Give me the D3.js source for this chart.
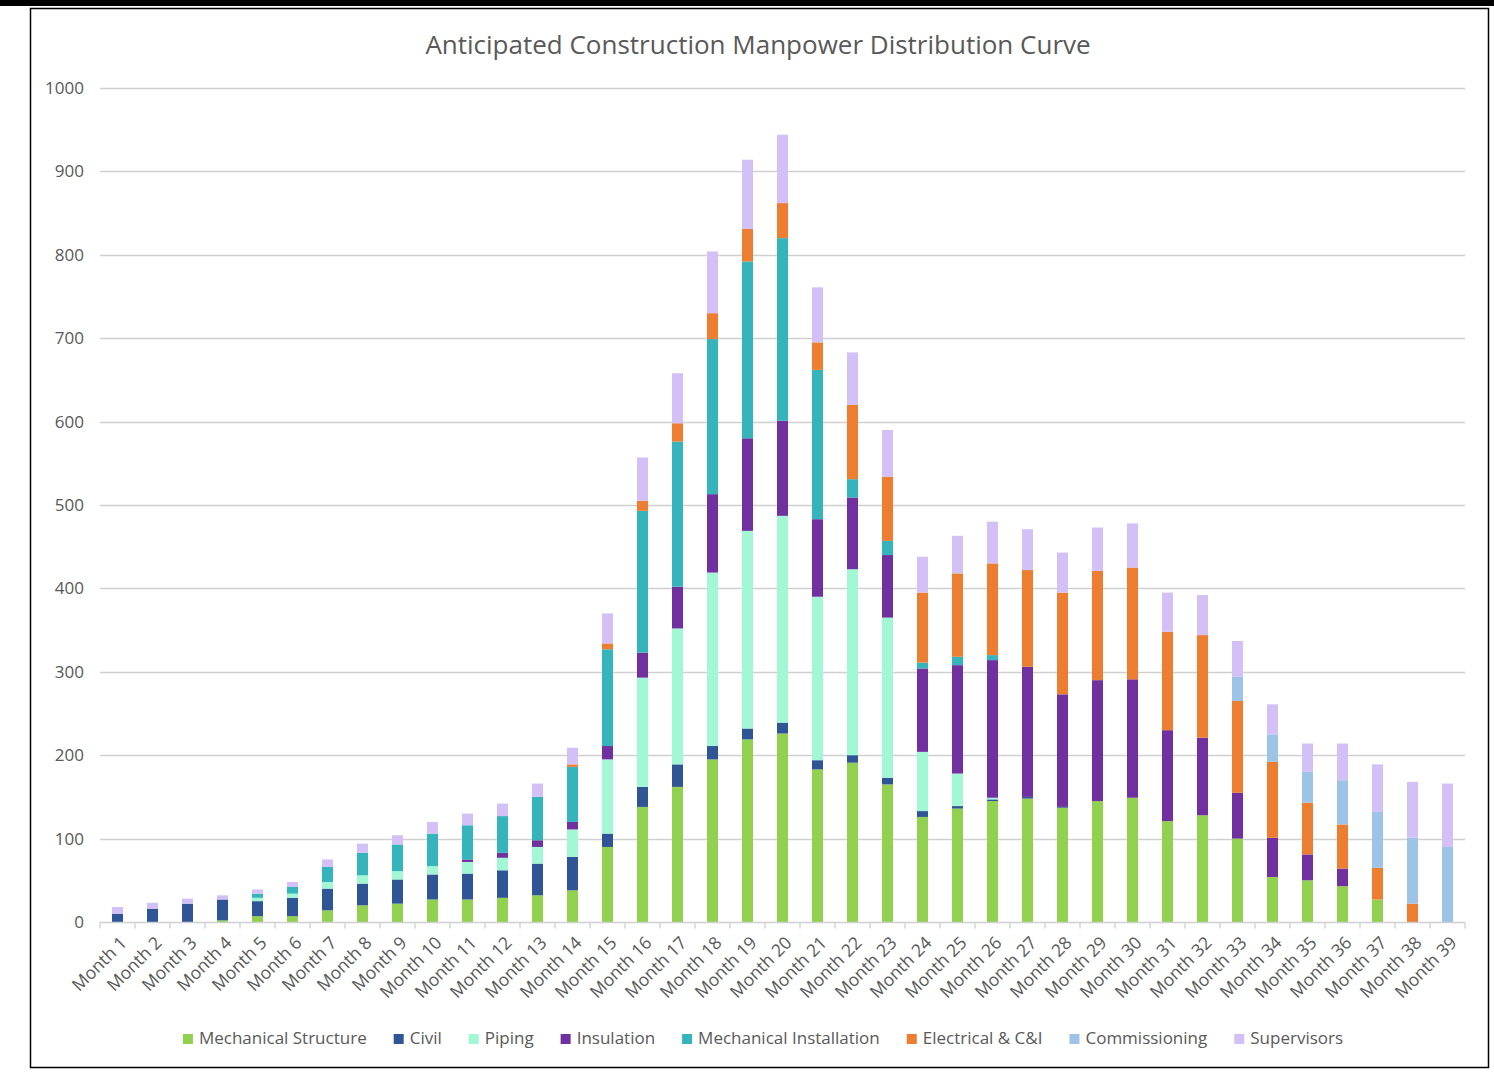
<!DOCTYPE html>
<html>
<head>
<meta charset="utf-8">
<script src="https://cdn.jsdelivr.net/npm/d3@7"></script>
<style>
  html, body { margin: 0; padding: 0; background: #fff; }
  svg { display: block; font-family: "Open Sans", sans-serif; }
</style>
</head>
<body>
<div id="chart"></div>
<script>
// 月份
const months = d3.range(1, 40).map(i => `Month ${i}`);

// 各工种人数
const mechStructure = [0,0,0,2,7,7,14,20,22,27,27,29,32,38,90,138,162,195,219,226,183,191,165,126,136,145,148,137,145,149,121,128,100,54,50,43,27,0,0];
const civil = [10,16,22,25,18,22,26,26,29,30,31,33,38,40,16,24,27,16,13,13,11,9,8,7,3,2,2,1,0,0,0,0,0,0,0,0,0,0,0];
const piping = [0,0,0,0,4,5,8,10,10,10,14,15,20,33,89,131,163,208,237,248,196,223,192,71,39,2,0,0,0,0,0,0,0,0,0,0,0,0,0];
const insulation = [0,0,0,0,0,0,0,0,0,0,3,6,8,9,16,30,50,94,111,114,93,86,75,100,130,165,156,135,145,142,109,93,55,47,31,21,0,0,0];
const mechInstallation = [0,0,0,0,5,8,18,27,32,39,41,44,52,66,116,170,174,186,212,219,179,22,17,7,10,6,0,0,0,0,0,0,0,0,0,0,0,0,0];
const electrical = [0,0,0,0,0,0,0,0,0,0,0,0,0,3,7,12,22,31,39,42,33,89,77,84,100,110,116,122,131,134,118,123,110,91,62,53,38,22,0];
const commissioning = [0,0,0,0,0,0,0,0,0,0,0,0,0,0,0,0,0,0,0,0,0,0,0,0,0,0,0,0,0,0,0,0,29,33,37,53,67,79,90];
const supervisors = [8,7,6,5,5,6,9,11,11,14,14,15,16,20,36,52,60,74,83,82,66,63,56,43,45,50,49,48,52,53,47,48,43,36,34,44,57,67,76];

const yTicks = [0,100,200,300,400,500,600,700,800,900,1000];

const seriesNames = ["Mechanical Structure","Civil","Piping","Insulation","Mechanical Installation","Electrical & C&I","Commissioning","Supervisors"];
const seriesValues = [mechStructure, civil, piping, insulation, mechInstallation, electrical, commissioning, supervisors];
const colors = ["#92d050","#2f5597","#a2f7d5","#7030a0","#36b4bc","#ed7d31","#9dc3e6","#d3c0f6"];

const W = 1494, H = 1073;
const margin = { left: 100, right: 29, top: 88, bottom: 151 };

const svg = d3.select("#chart").append("svg")
    .attr("width", W)
    .attr("height", H);

// 外框
svg.append("rect").attr("x", 0).attr("y", 0).attr("width", W).attr("height", 6).attr("fill", "#000");
svg.append("rect")
    .attr("x", 30.5).attr("y", 8.5)
    .attr("width", 1458).attr("height", 1059)
    .attr("fill", "none").attr("stroke", "#000").attr("stroke-width", 1.5);

// 数据整理
const rows = months.map((m, i) => {
    const r = { month: m };
    seriesNames.forEach((s, k) => r[s] = seriesValues[k][i]);
    return r;
});
const stacked = d3.stack().keys(seriesNames)(rows);

const x = d3.scaleBand()
    .domain(months)
    .range([margin.left, W - margin.right])
    .paddingInner(0.685)
    .paddingOuter(0.3425);

const y = d3.scaleLinear()
    .domain([0, 1000])
    .range([H - margin.bottom, margin.top]);

// 网格线
svg.append("g")
    .selectAll("line")
    .data(yTicks.filter(d => d > 0))
    .enter().append("line")
    .attr("x1", margin.left).attr("x2", W - margin.right)
    .attr("y1", d => Math.round(y(d)) + 0.5).attr("y2", d => Math.round(y(d)) + 0.5)
    .attr("stroke", "#d0d0d0").attr("stroke-width", 1.3);

// y轴标签
svg.append("g")
    .selectAll("text")
    .data(yTicks)
    .enter().append("text")
    .attr("x", 84)
    .attr("y", d => y(d))
    .attr("dy", "0.35em")
    .attr("text-anchor", "end")
    .attr("fill", "#595959")
    .attr("font-size", 17)
    .text(d => d);

// 堆叠柱
svg.append("g")
    .selectAll("g")
    .data(stacked)
    .enter().append("g")
    .attr("fill", (d, i) => colors[i])
    .selectAll("rect")
    .data(d => d.filter(p => p[1] - p[0] > 0))
    .enter().append("rect")
    .attr("x", d => x(d.data.month))
    .attr("width", x.bandwidth())
    .attr("y", d => y(d[1]))
    .attr("height", d => y(d[0]) - y(d[1]));

// x轴
const y0 = Math.round(y(0)) + 0.5;
svg.append("line")
    .attr("x1", margin.left).attr("x2", W - margin.right)
    .attr("y1", y0).attr("y2", y0)
    .attr("stroke", "#d0d0d0").attr("stroke-width", 1.3);

const step = x.step();
svg.append("g")
    .selectAll("line")
    .data(d3.range(months.length + 1))
    .enter().append("line")
    .attr("x1", i => margin.left + i * step).attr("x2", i => margin.left + i * step)
    .attr("y1", y0).attr("y2", y0 + 6)
    .attr("stroke", "#d0d0d0").attr("stroke-width", 1.3);

svg.append("g")
    .selectAll("text")
    .data(months)
    .enter().append("text")
    .attr("transform", d => `translate(${x(d) + x.bandwidth() / 2 + 6},${y0 + 17}) rotate(-45)`)
    .attr("text-anchor", "end")
    .attr("dy", "0.35em")
    .attr("fill", "#595959")
    .attr("font-size", 17.5)
    .text(d => d);

// 标题
svg.append("text")
    .attr("x", 758)
    .attr("y", 54)
    .attr("text-anchor", "middle")
    .attr("fill", "#595959")
    .attr("font-size", 26)
    .text("Anticipated Construction Manpower Distribution Curve");

// 图例
const legend = svg.append("g");
const items = legend.selectAll("g")
    .data(seriesNames)
    .enter().append("g");
items.append("rect")
    .attr("width", 10).attr("height", 10)
    .attr("y", -10)
    .attr("fill", (d, i) => colors[i]);
items.append("text")
    .attr("x", 16)
    .attr("fill", "#595959")
    .attr("font-size", 17)
    .text(d => d);

const gap = 27;
const widths = items.nodes().map(n => 16 + d3.select(n).select("text").node().getComputedTextLength());
const total = d3.sum(widths) + gap * (widths.length - 1);
let lx = 763 - total / 2;
items.attr("transform", (d, i) => {
    const t = `translate(${lx},1044)`;
    lx += widths[i] + gap;
    return t;
});
</script>
</body>
</html>
